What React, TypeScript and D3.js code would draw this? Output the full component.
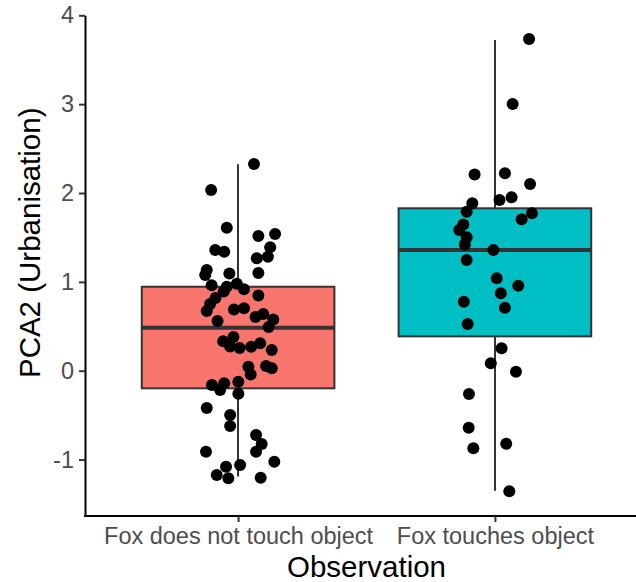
import * as d3 from "d3";
import { useEffect, useRef } from "react";

// box summary per category
const categories = ["Fox does not touch object", "Fox touches object"];
const fills = ["#F8766D", "#00BFC4"];
const whiskerLow = [-1.19, -1.35];
const q1 = [-0.198, 0.387];
const median = [0.484, 1.358];
const q3 = [0.945, 1.828];
const whiskerHigh = [2.323, 3.722];

// jittered observations: horizontal jitter (in category units) and PCA2 value
const noTouchJitter = [
  0.062, -0.105, -0.044, 0.079, 0.144, 0.125, 0.116, 0.073, -0.089, -0.054,
  0.079, -0.034, -0.122, -0.128, -0.103, -0.044, -0.005, 0.023, -0.056, 0.079,
  -0.088, -0.109, -0.122, -0.016, 0.023, 0.068, 0.098, 0.137, 0.119, -0.08,
  -0.058, -0.018, -0.031, 0.006, 0.051, 0.086, 0.131, 0.04, 0.049, 0.109,
  0.131, -0.102, -0.054, -0.07, 0.001, 0.001, -0.122, -0.031, -0.031, 0.07,
  0.092, 0.07, -0.125, 0.141, -0.047, 0.008, -0.083, -0.038, 0.088,
];
const noTouchValues = [
  2.326, 2.034, 1.609, 1.516, 1.539, 1.389, 1.283, 1.265, 1.358, 1.339,
  1.1, 1.094, 1.133, 1.077, 0.961, 0.945, 0.979, 0.916, 0.891, 0.846,
  0.818, 0.751, 0.672, 0.689, 0.702, 0.604, 0.638, 0.576, 0.492, 0.559,
  0.331, 0.379, 0.272, 0.255, 0.27, 0.308, 0.233, 0.045, -0.043, 0.053,
  0.027, -0.161, -0.142, -0.217, -0.124, -0.259, -0.42, -0.499, -0.622, -0.724,
  -0.825, -0.912, -0.912, -1.024, -1.08, -1.061, -1.174, -1.211, -1.204,
];
const touchJitter = [
  0.133, 0.069, -0.079, 0.039, 0.137, 0.018, 0.065, -0.088, -0.11, 0.144,
  0.104, -0.123, -0.139, -0.11, -0.117, -0.006, -0.11, 0.007, 0.091, 0.023,
  -0.121, 0.039, -0.106, 0.026, -0.016, 0.082, -0.101, -0.102, -0.084, 0.044,
  0.056,
];
const touchValues = [
  3.733, 3.002, 2.208, 2.222, 2.101, 1.921, 1.952, 1.884, 1.79, 1.772,
  1.705, 1.645, 1.584, 1.501, 1.42, 1.358, 1.246, 1.04, 0.957, 0.871,
  0.777, 0.709, 0.526, 0.252, 0.083, -0.011, -0.262, -0.642, -0.873, -0.822,
  -1.357,
];

const yTicks = [-1, 0, 1, 2, 3, 4];
const yTickLabels = ["-1", "0", "1", "2", "3", "4"];

const font = "'Liberation Sans', Arial, Helvetica, sans-serif";

const redraw = (svgRef) => {
  const svg = d3.select(svgRef.current);
  svg.selectAll("*").remove();

  const x = d3.scaleLinear().domain([0.4, 2.6]).range([84, 649]);
  const y = d3.scaleLinear().domain([-1.635, 4]).range([516, 15.3]);
  const boxHalf = 0.375;

  // boxes
  const boxes = svg.append("g");
  categories.forEach((c, i) => {
    const cx = Math.round(x(i + 1));
    const g = boxes.append("g");
    g.append("line")
      .attr("x1", cx).attr("x2", cx)
      .attr("y1", y(q3[i])).attr("y2", y(whiskerHigh[i]))
      .attr("stroke", "#333333").attr("stroke-width", 2);
    g.append("line")
      .attr("x1", cx).attr("x2", cx)
      .attr("y1", y(q1[i])).attr("y2", y(whiskerLow[i]))
      .attr("stroke", "#333333").attr("stroke-width", 2);
    g.append("rect")
      .attr("x", x(i + 1 - boxHalf))
      .attr("y", y(q3[i]))
      .attr("width", x(i + 1 + boxHalf) - x(i + 1 - boxHalf))
      .attr("height", y(q1[i]) - y(q3[i]))
      .attr("fill", fills[i])
      .attr("stroke", "#333333")
      .attr("stroke-width", 2);
    g.append("line")
      .attr("x1", x(i + 1 - boxHalf)).attr("x2", x(i + 1 + boxHalf))
      .attr("y1", y(median[i])).attr("y2", y(median[i]))
      .attr("stroke", "#333333").attr("stroke-width", 4);
  });

  // points
  const points = [
    ...noTouchValues.map((v, k) => ({ pos: 1 + noTouchJitter[k], v })),
    ...touchValues.map((v, k) => ({ pos: 2 + touchJitter[k], v })),
  ];
  svg.append("g").selectAll("circle").data(points).enter().append("circle")
    .attr("cx", (d) => x(d.pos))
    .attr("cy", (d) => y(d.v))
    .attr("r", 6)
    .attr("fill", "black");

  // axes
  const yAxis = svg.append("g")
    .attr("transform", "translate(85,0)")
    .call(d3.axisLeft(y).tickValues(yTicks).tickFormat((d, k) => yTickLabels[k])
      .tickSize(6).tickSizeOuter(0).tickPadding(5));
  const xAxis = svg.append("g")
    .attr("transform", "translate(0,516)")
    .call(d3.axisBottom(x).tickValues([1, 2]).tickFormat((d) => categories[d - 1])
      .tickSize(6).tickSizeOuter(0).tickPadding(5));

  [yAxis, xAxis].forEach((a) => {
    a.select(".domain").attr("stroke", "black").attr("stroke-width", 2);
    a.selectAll(".tick line").attr("stroke", "#333333").attr("stroke-width", 2);
    a.selectAll(".tick text")
      .attr("fill", "#4D4D4D")
      .attr("font-family", font)
      .attr("font-size", 23.5);
  });
  // join the two axis lines at the corner
  xAxis.select(".domain").attr("d", "M84,0H649");

  svg.append("text")
    .attr("x", x(1.5))
    .attr("y", 577)
    .attr("text-anchor", "middle")
    .attr("font-family", font)
    .attr("font-size", 29.5)
    .attr("fill", "black")
    .text("Observation");

  svg.append("text")
    .attr("transform", `translate(40,${y(1.44)}) rotate(-90)`)
    .attr("text-anchor", "middle")
    .attr("font-family", font)
    .attr("font-size", 29.5)
    .attr("fill", "black")
    .text("PCA2 (Urbanisation)");
};

export default function App() {
  const svgRef = useRef(null);

  useEffect(() => {
    redraw(svgRef);
  }, []);

  return (
    <div style={{ position: "absolute", left: 0, top: 0 }}>
      <svg ref={svgRef} width={636} height={582} style={{ display: "block", background: "white" }} />
    </div>
  );
}
